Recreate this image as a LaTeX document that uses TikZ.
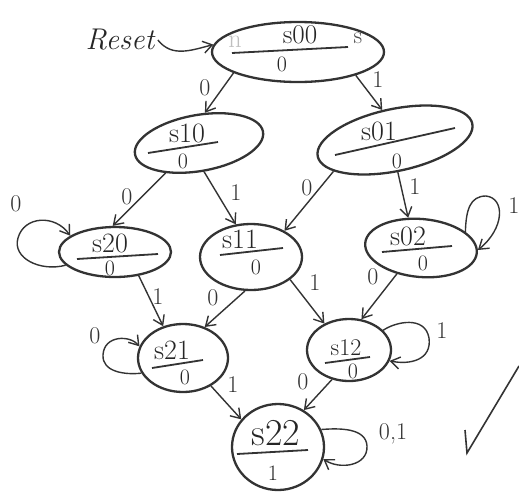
\documentclass[tikz,border=0pt]{standalone}
\usetikzlibrary{shapes.geometric,arrows.meta}
\begin{document}
\begin{tikzpicture}[x=1pt,y=-1pt,
  ink/.style={draw=black!80, line width=2.3pt},
  bar/.style={draw=black!80, line width=1.8pt},
  st/.style={ink, ellipse, inner sep=0pt},
  tr/.style={draw=black!80, line width=1.4pt, -{Straight Barb[length=9pt,width=12pt,line width=1.4pt]}},
  lbl/.style={font=\fontsize{24}{24}\selectfont, text=black!80},
  nm/.style={font=\fontsize{28}{28}\selectfont, text=black!85, anchor=base, inner sep=0pt},
  outp/.style={font=\fontsize{22}{22}\selectfont, text=black!85, inner sep=0pt}]
\useasboundingbox (0,0) rectangle (519,493);
\fill[white] (0,0) rectangle (519,493);
% states
\node[st, minimum width=172pt, minimum height=60pt] (s00) at (298,52) {};
\node[st, minimum width=130pt, minimum height=56pt, rotate=10] (s10) at (199,143) {};
\node[st, minimum width=158pt, minimum height=62pt, rotate=12] (s01) at (395,140) {};
\node[st, minimum width=112pt, minimum height=50pt] (s20) at (115,252) {};
\node[st, minimum width=102pt, minimum height=66pt] (s11) at (251,257) {};
\node[st, minimum width=112pt, minimum height=58pt, rotate=-5] (s02) at (421,248) {};
\node[st, minimum width=90pt, minimum height=68pt] (s21) at (183,358) {};
\node[st, minimum width=84pt, minimum height=62pt] (s12) at (349,350) {};
\node[st, minimum width=92pt, minimum height=86pt] (s22) at (278,447) {};
% state texts
\node[nm, font=\fontsize{27}{27}\selectfont] (t00) at (300,43) {s00};
\node[nm, font=\fontsize{24}{24}\selectfont, text=black!70] (x00) at (358,43) {s};
\node[nm, font=\fontsize{26}{26}\selectfont, text=black!25] (n00) at (235,47) {n};
\node[outp] (o00) at (282,64) {0};
\draw[bar] (232,53) -- (348,47);
\node[nm] (t10) at (187,142) {s10};
\node[outp] (o10) at (183,161) {0};
\draw[bar] (148,153) -- (218,142);
\node[nm] (t01) at (379,140) {s01};
\node[outp] (o01) at (397,161) {0};
\draw[bar] (335,155) -- (455,128);
\node[nm] (t20) at (110,252) {s20};
\node[outp] (o20) at (110,268) {0};
\draw[bar] (77,259) -- (158,254);
\node[nm] (t11) at (240,248) {s11};
\node[outp] (o11) at (256,267) {0};
\draw[bar] (220,255) -- (283,248);
\node[nm] (t02) at (408,245) {s02};
\node[outp] (o02) at (423,263) {0};
\draw[bar] (382,252) -- (452,246);
\node[nm] (t21) at (172,359) {s21};
\node[outp] (o21) at (185,377) {0};
\draw[bar] (152,368) -- (203,360);
\node[nm, font=\fontsize{24}{24}\selectfont] (t12) at (346,355) {s12};
\node[outp] (o12) at (353,371) {0};
\draw[bar] (325,363) -- (370,357);
\node[nm, font=\fontsize{38}{38}\selectfont] (t22) at (276,445) {s22};
\node[outp] (o22) at (273,473) {1};
\draw[bar] (237,454) -- (308,450);
% reset
\node[font=\fontsize{30}{30}\selectfont\itshape, text=black!85] (reset) at (120,40) {Reset};
\draw[tr] (reset.east) .. controls (172,58) and (192,50) .. (s00.175);
% transitions
\draw[tr] (s00.198) -- (s10.69);
\node[lbl] (l1) at (205,88) {0};
\draw[tr] (s00.-22) -- (s01.101);
\node[lbl] (l2) at (378,80) {1};
\draw[tr] (s10.212) -- (s20.95);
\node[lbl] (l3) at (127,197) {0};
\draw[tr] (s10.270) -- (s11.115);
\node[lbl] (l4) at (236,193) {1};
\draw[tr] (s01.195) -- (s11.38);
\node[lbl] (l5) at (307,188) {0};
\draw[tr] (s01.263) -- (s02.118);
\node[lbl] (l6) at (415,187) {1};
\draw[tr] (s20.-45) -- (s21.122);
\node[lbl] (l7) at (158,297) {1};
\draw[tr] (s11.-100) -- (s21.55);
\node[lbl] (l8) at (213,298) {0};
\draw[tr] (s11.-30) -- (s12.133);
\node[lbl] (l9) at (315,283) {1};
\draw[tr] (s02.-128) -- (s12.68);
\node[lbl] (l10) at (373,277) {0};
\draw[tr] (s21.-45) -- (s22.143);
\node[lbl] (l11) at (233,385) {1};
\draw[tr] (s12.-120) -- (s22.55);
\node[lbl] (l12) at (303,382) {0};
% self loops
\draw[tr] (s20.195) .. controls (40,272) and (12,258) .. (18,238) .. controls (24,216) and (55,214) .. (s20.160);
\node[lbl] (q20) at (16,204) {0};
\draw[tr] (s02.25) .. controls (466,210) and (470,196) .. (486,196) .. controls (505,198) and (505,228) .. (s02.3);
\node[lbl] (q02) at (514,206) {1};
\draw[tr] (s21.200) .. controls (125,375) and (102,372) .. (103,355) .. controls (104,335) and (130,335) .. (s21.165);
\node[lbl] (q21) at (95,336) {0};
\draw[tr] (s12.30) .. controls (395,322) and (425,315) .. (429,338) .. controls (432,360) and (410,365) .. (s12.-15);
\node[lbl] (q12) at (442,331) {1};
\draw[tr] (s22.22) .. controls (340,428) and (366,428) .. (367,446) .. controls (368,466) and (340,470) .. (s22.-15);
\node[lbl] (q22) at (393,434) {0,1};
% check mark
\draw[draw=black!80, line width=1.6pt] (465,430) -- (467,453) -- (519,366);
\end{tikzpicture}
\end{document}
